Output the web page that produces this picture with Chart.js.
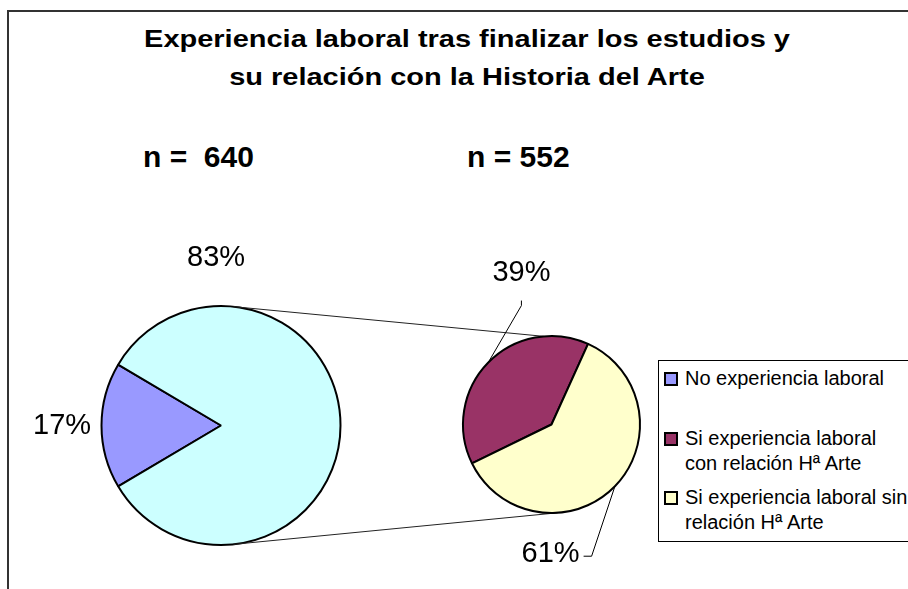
<!DOCTYPE html>
<html>
<head>
<meta charset="utf-8">
<script src="https://cdn.jsdelivr.net/npm/chart.js@4.4.1/dist/chart.umd.min.js"></script>
<style>
    body { margin: 0; background: #fff; font-family: Arial, "Liberation Sans", sans-serif; }
    #wrap { position: relative; width: 908px; height: 589px; overflow: hidden; }
    #frame { position: absolute; left: 7px; top: 10px; width: 1000px; height: 700px; border: 2px solid #333; }
    canvas { position: absolute; left: 0; top: 0; }
    .title { position: absolute; left: 0; width: 934px; top: 20px; text-align: center; font-weight: bold; font-size: 23px; line-height: 38px; transform: scaleX(1.26); transform-origin: 467px 0; }
    .n { position: absolute; top: 142px; font-weight: bold; font-size: 30px; line-height: 30px; white-space: pre; }
    #legend { position: absolute; left: 658px; top: 360px; width: 300px; height: 180px; border: 1px solid #000; background: #fff; }
    .item { position: absolute; left: 5px; font-size: 20px; line-height: 25px; }
    .item i { position: absolute; left: 0; top: 6px; width: 10px; height: 10px; border: 2px solid #000; }
    .item span { display: block; margin-left: 21px; white-space: nowrap; }
</style>
</head>
<body>
<div id="wrap">
    <div id="frame"></div>
    <div class="title">Experiencia laboral tras finalizar los estudios y<br>su relación con la Historia del Arte</div>
    <div class="n" style="left:143px">n =  640</div>
    <div class="n" style="left:467px">n = 552</div>
    <canvas id="pie1" width="908" height="589"></canvas>
    <canvas id="pie2" width="908" height="589"></canvas>
    <div id="legend"></div>
</div>
<script>
// data
const mainLabels = ['No experiencia laboral', 'Si experiencia laboral'];
const mainValues = [17, 83];
const subLabels = [
    ['Si experiencia laboral', 'con relación Hª Arte'],
    ['Si experiencia laboral sin', 'relación Hª Arte']
];
const subValues = [39, 61];

const mainColors = ['#9999FF', '#CCFFFF'];
const subColors = ['#993366', '#FFFFCC'];

// percentage labels, drawn around each pie
const pctLabels = {
    id: 'pctLabels',
    afterDatasetsDraw(chart, args, opts) {
        const ctx = chart.ctx;
        const arcs = chart.getDatasetMeta(0).data;
        const values = chart.data.datasets[0].data;
        const total = values.reduce((a, b) => a + b, 0);
        ctx.save();
        ctx.font = '29px Arial, "Liberation Sans", sans-serif';
        ctx.fillStyle = '#000';
        ctx.strokeStyle = '#000';
        ctx.lineWidth = 1;
        ctx.textAlign = 'center';
        ctx.textBaseline = 'middle';
        opts.items.forEach((it, i) => {
            const arc = arcs[i];
            const r = arc.outerRadius;
            const a = it.angle * Math.PI / 180;
            const lx = arc.x + Math.sin(a) * r * it.dist;
            const ly = arc.y - Math.cos(a) * r * it.dist;
            ctx.fillText(Math.round(values[i] / total * 100) + '%', lx, ly);
            if (it.leader) {
                const mid = (arc.startAngle + arc.endAngle) / 2;
                ctx.beginPath();
                ctx.moveTo(lx + it.leader[0], ly + it.leader[1]);
                ctx.lineTo(lx + it.leader[2], ly + it.leader[3]);
                ctx.lineTo(arc.x + Math.cos(mid) * r, arc.y + Math.sin(mid) * r);
                ctx.stroke();
            }
        });
        ctx.restore();
    }
};

// lines joining the two pies
const connectors = {
    id: 'connectors',
    beforeDatasetsDraw(chart, args, opts) {
        const a = window.chart1.getDatasetMeta(0).data[0];
        const b = chart.getDatasetMeta(0).data[0];
        const pt = (arc, deg) => {
            const t = deg * Math.PI / 180;
            return [arc.x + Math.sin(t) * arc.outerRadius, arc.y - Math.cos(t) * arc.outerRadius];
        };
        const ctx = chart.ctx;
        ctx.save();
        ctx.strokeStyle = '#222';
        ctx.lineWidth = 1;
        opts.pairs.forEach(p => {
            const s = pt(a, p[0]);
            const e = pt(b, p[1]);
            ctx.beginPath();
            ctx.moveTo(s[0], s[1]);
            ctx.lineTo(e[0], e[1]);
            ctx.stroke();
        });
        ctx.restore();
    }
};

Chart.defaults.animation = false;
Chart.defaults.events = [];

window.chart1 = new Chart(document.getElementById('pie1'), {
    type: 'pie',
    data: {
        labels: mainLabels,
        datasets: [{
            data: mainValues,
            backgroundColor: mainColors,
            borderColor: '#000',
            borderWidth: 2
        }]
    },
    options: {
        responsive: false,
        rotation: 239.4,
        layout: { padding: { left: 100, right: 566, top: 305, bottom: 43 } },
        plugins: {
            legend: { display: false },
            tooltip: { enabled: false },
            pctLabels: { items: [
                { angle: 270, dist: 1.33 },
                { angle: 358.3, dist: 1.40 }
            ] }
        }
    },
    plugins: [pctLabels]
});

window.chart2 = new Chart(document.getElementById('pie2'), {
    type: 'pie',
    data: {
        labels: subLabels.map(l => l.join(' ')),
        datasets: [{
            data: subValues,
            backgroundColor: subColors,
            borderColor: '#000',
            borderWidth: 2
        }]
    },
    options: {
        responsive: false,
        rotation: 244,
        layout: { padding: { left: 462, right: 267, top: 335, bottom: 75 } },
        plugins: {
            legend: { display: false },
            tooltip: { enabled: false },
            connectors: { pairs: [[6, 355], [174, 176]] },
            pctLabels: { items: [
                { angle: 348.8, dist: 1.75, leader: [0, 28, 0, 33] },
                { angle: 180.4, dist: 1.46, leader: [33, 2.5, 41, 2.5] }
            ] }
        }
    },
    plugins: [connectors, pctLabels]
});

// legend: first slice of the main pie, then the breakdown pie
const legendEntries = [
    { lines: [mainLabels[0]], color: mainColors[0] },
    { lines: subLabels[0], color: subColors[0] },
    { lines: subLabels[1], color: subColors[1] }
];
const legendTops = [5, 65, 124];
const legendEl = document.getElementById('legend');
legendEntries.forEach((e, i) => {
    const div = document.createElement('div');
    div.className = 'item';
    div.style.top = legendTops[i] + 'px';
    div.innerHTML = '<i style="background:' + e.color + '"></i>' +
        e.lines.map(t => '<span>' + t + '</span>').join('');
    legendEl.appendChild(div);
});
</script>
</body>
</html>
